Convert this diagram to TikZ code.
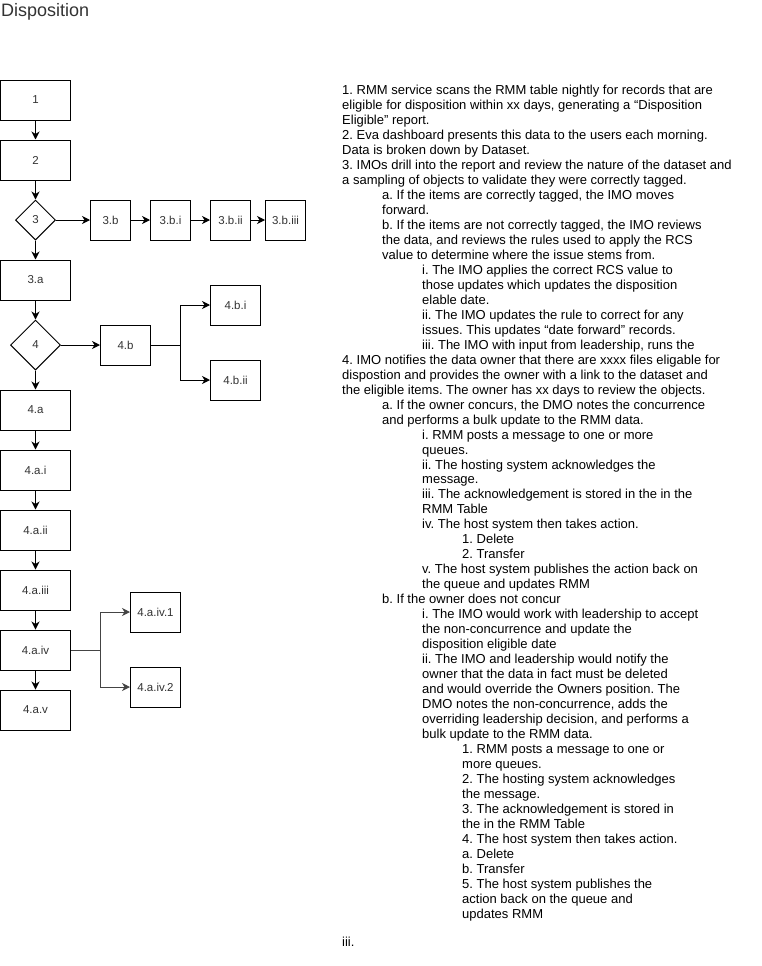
\documentclass[tikz,border=0pt]{standalone}
\usepackage{fontspec}
\setmainfont{Liberation Sans}
\usetikzlibrary{shapes.geometric,arrows.meta}
\definecolor{labelgray}{HTML}{333333}
\definecolor{branchgray}{HTML}{444444}
\begin{document}
\frenchspacing
\begin{tikzpicture}[x=1pt,y=-1pt,
  box/.style={draw=black, line width=1pt, minimum width=70pt, minimum height=40pt,
    inner sep=0pt, font=\fontsize{11.5}{13}\selectfont, text=labelgray},
  smallbox/.style={box, minimum width=40pt},
  midbox/.style={box, minimum width=50pt},
  decision/.style={draw=black, line width=1pt, diamond, aspect=1, inner sep=0pt,
    font=\fontsize{11.5}{13}\selectfont, text=labelgray},
  arr/.style={line width=1pt, -{Stealth[length=8pt,width=8pt,inset=2.5pt]}},
  listline/.style={anchor=base west, inner sep=0pt, font=\fontsize{13}{15}\selectfont, text=black},
]
\useasboundingbox (0,0) rectangle (761,966);
\fill[white] (0,0) rectangle (761,966);

% heading
\node[anchor=base west, inner sep=0pt, font=\fontsize{18}{20}\selectfont, text=labelgray]
  (title) at (1,16.5) {Disposition};

% main column
\node[box] (s1)   at (35.5,100) {1};
\node[box] (s2)   at (35.5,160) {2};
\node[decision, minimum width=40pt, minimum height=40pt] (d3) at (35.5,220) {3};
\node[box] (s3a)  at (35.5,280) {3.a};
\node[decision, minimum width=50pt, minimum height=50pt] (d4) at (35.5,345) {4};
\node[box] (s4a)  at (35.5,410) {4.a};
\node[box] (s4ai) at (35.5,470) {4.a.i};
\node[box] (s4aii) at (35.5,530) {4.a.ii};
\node[box] (s4aiii) at (35.5,590) {4.a.iii};
\node[box] (s4aiv) at (35.5,650) {4.a.iv};
\node[box] (s4av) at (35.5,710) {4.a.v};

% branch of step 3
\node[smallbox] (s3b)    at (110.5,220) {3.b};
\node[smallbox] (s3bi)   at (170.5,220) {3.b.i};
\node[smallbox] (s3bii)  at (230.5,220) {3.b.ii};
\node[smallbox] (s3biii) at (285.5,220) {3.b.iii};

% branch of step 4
\node[midbox] (s4b)   at (125.5,345) {4.b};
\node[midbox] (s4bi)  at (235.5,305) {4.b.i};
\node[midbox] (s4bii) at (235.5,380) {4.b.ii};

% actions of 4.a.iv
\node[midbox] (s4aiv1) at (155.5,612) {4.a.iv.1};
\node[midbox] (s4aiv2) at (155.5,687) {4.a.iv.2};

\coordinate (j4b) at (180.5,345);
\coordinate (j4aiv) at (100.5,650);

% connectors
\draw[arr] (s1) -- (s2);
\draw[arr] (s2) -- (d3);
\draw[arr] (d3) -- (s3a);
\draw[arr] (d3) -- (s3b);
\draw[arr] (s3b) -- (s3bi);
\draw[arr] (s3bi) -- (s3bii);
\draw[arr] (s3bii) -- (s3biii);
\draw[arr] (s3a) -- (d4);
\draw[arr] (d4) -- (s4a);
\draw[arr] (d4) -- (s4b);
\draw[line width=1pt] (s4b) -- (j4b);
\draw[arr] (j4b) |- (s4bi);
\draw[arr] (j4b) |- (s4bii);
\draw[arr] (s4a) -- (s4ai);
\draw[arr] (s4ai) -- (s4aii);
\draw[arr] (s4aii) -- (s4aiii);
\draw[arr] (s4aiii) -- (s4aiv);
\draw[arr] (s4aiv) -- (s4av);
\draw[line width=1pt, branchgray] (s4aiv) -- (j4aiv);
\draw[arr, branchgray] (j4aiv) |- (s4aiv1);
\draw[arr, branchgray] (j4aiv) |- (s4aiv2);

% process description, one line per entry: indent level / text
\foreach \lv/\txt [count=\i from 0] in {
  0/{1. RMM service scans the RMM table nightly for records that are},
  0/{eligible for disposition within xx days, generating a “Disposition},
  0/{Eligible” report.},
  0/{2. Eva dashboard presents this data to the users each morning.},
  0/{Data is broken down by Dataset.},
  0/{3. IMOs drill into the report and review the nature of the dataset and},
  0/{a sampling of objects to validate they were correctly tagged.},
  1/{a. If the items are correctly tagged, the IMO moves},
  1/{forward.},
  1/{b. If the items are not correctly tagged, the IMO reviews},
  1/{the data, and reviews the rules used to apply the RCS},
  1/{value to determine where the issue stems from.},
  2/{i. The IMO applies the correct RCS value to},
  2/{those updates which updates the disposition},
  2/{elable date.},
  2/{ii. The IMO updates the rule to correct for any},
  2/{issues. This updates “date forward” records.},
  2/{iii. The IMO with input from leadership, runs the},
  0/{4. IMO notifies the data owner that there are xxxx files eligable for},
  0/{dispostion and provides the owner with a link to the dataset and},
  0/{the eligible items. The owner has xx days to review the objects.},
  1/{a. If the owner concurs, the DMO notes the concurrence},
  1/{and performs a bulk update to the RMM data.},
  2/{i. RMM posts a message to one or more},
  2/{queues.},
  2/{ii. The hosting system acknowledges the},
  2/{message.},
  2/{iii. The acknowledgement is stored in the in the},
  2/{RMM Table},
  2/{iv. The host system then takes action.},
  3/{1. Delete},
  3/{2. Transfer},
  2/{v. The host system publishes the action back on},
  2/{the queue and updates RMM},
  1/{b. If the owner does not concur},
  2/{i. The IMO would work with leadership to accept},
  2/{the non-concurrence and update the},
  2/{disposition eligible date},
  2/{ii. The IMO and leadership would notify the},
  2/{owner that the data in fact must be deleted},
  2/{and would override the Owners position. The},
  2/{DMO notes the non-concurrence, adds the},
  2/{overriding leadership decision, and performs a},
  2/{bulk update to the RMM data.},
  3/{1. RMM posts a message to one or},
  3/{more queues.},
  3/{2. The hosting system acknowledges},
  3/{the message.},
  3/{3. The acknowledgement is stored in},
  3/{the in the RMM Table},
  3/{4. The host system then takes action.},
  3/{a. Delete},
  3/{b. Transfer},
  3/{5. The host system publishes the},
  3/{action back on the queue and},
  3/{updates RMM}}
  \node[listline, name=line\i] at ({342+40*\lv},{94.5+14.98*\i}) {\txt};

\node[listline] (tail) at (342,946.5) {iii.};
\end{tikzpicture}
\end{document}
